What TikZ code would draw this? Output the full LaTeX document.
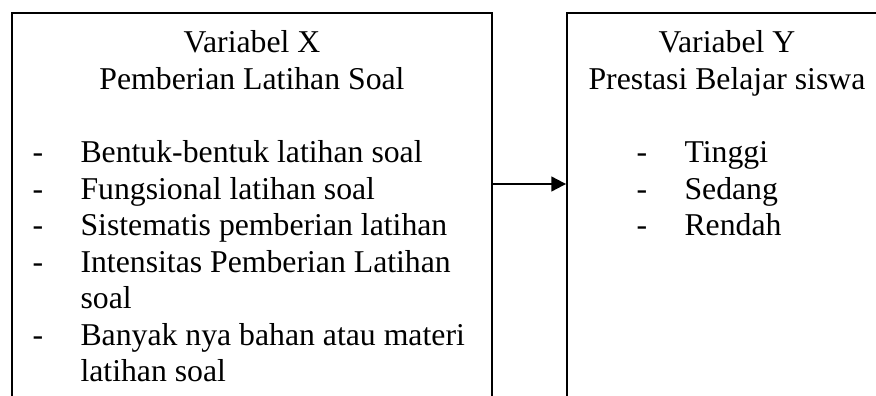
\documentclass[tikz,border=0pt]{standalone}
\usepackage{fontspec}
\setmainfont{Liberation Serif}
\usetikzlibrary{arrows.meta, positioning, fit}
\tikzset{
  box/.style={draw=black, line width=0.7pt, inner sep=0pt},
  txt/.style={font=\fontsize{12}{13.8}\selectfont, text=black, inner sep=0pt, anchor=base},
  item/.style={txt, anchor=base west},
  link/.style={draw=black, line width=0.8pt, -{Triangle[length=5.6pt, width=5.6pt]}}
}

\begin{document}
\begin{tikzpicture}[x=0.378pt, y=-0.378pt]
\useasboundingbox (0,0) rectangle (876,396);
\clip (0,0) rectangle (876,396);
% kotak variabel
\node[box, fit={(12,13) (492,440)}] (varX) {};
\node[box, fit={(567,13) (887,440)}] (varY) {};
% judul kotak
\node[txt] (judulX1) at (252,53) {Variabel X};
\node[txt] (judulX2) at (252,89.5) {Pemberian Latihan Soal};
\node[txt] (judulY1) at (727,53) {Variabel Y};
\node[txt] (judulY2) at (727,89.5) {Prestasi Belajar siswa};
% indikator X
\foreach \ypos [count=\i] in {163,199.5,236,272.5,345.5}
  \node[item] (dashX\i) at (32,\ypos) {-};
\foreach \ypos/\isi [count=\i] in {163/Bentuk-bentuk latihan soal,
    199.5/Fungsional latihan soal, 236/Sistematis pemberian latihan,
    272.5/Intensitas Pemberian Latihan, 309/soal,
    345.5/Banyak nya bahan atau materi, 382/latihan soal}
  \node[item] (indX\i) at (80,\ypos) {\isi};
% indikator Y
\foreach \ypos/\isi [count=\i] in {163/Tinggi, 199.5/Sedang, 236/Rendah}{
  \node[item] (dashY\i) at (636,\ypos) {-};
  \node[item] (indY\i) at (684,\ypos) {\isi};
}
% panah X ke Y
\coordinate (panah) at (0,184);
\draw[link] (varX.east |- panah) -- (varY.west |- panah);
\end{tikzpicture}
\end{document}
